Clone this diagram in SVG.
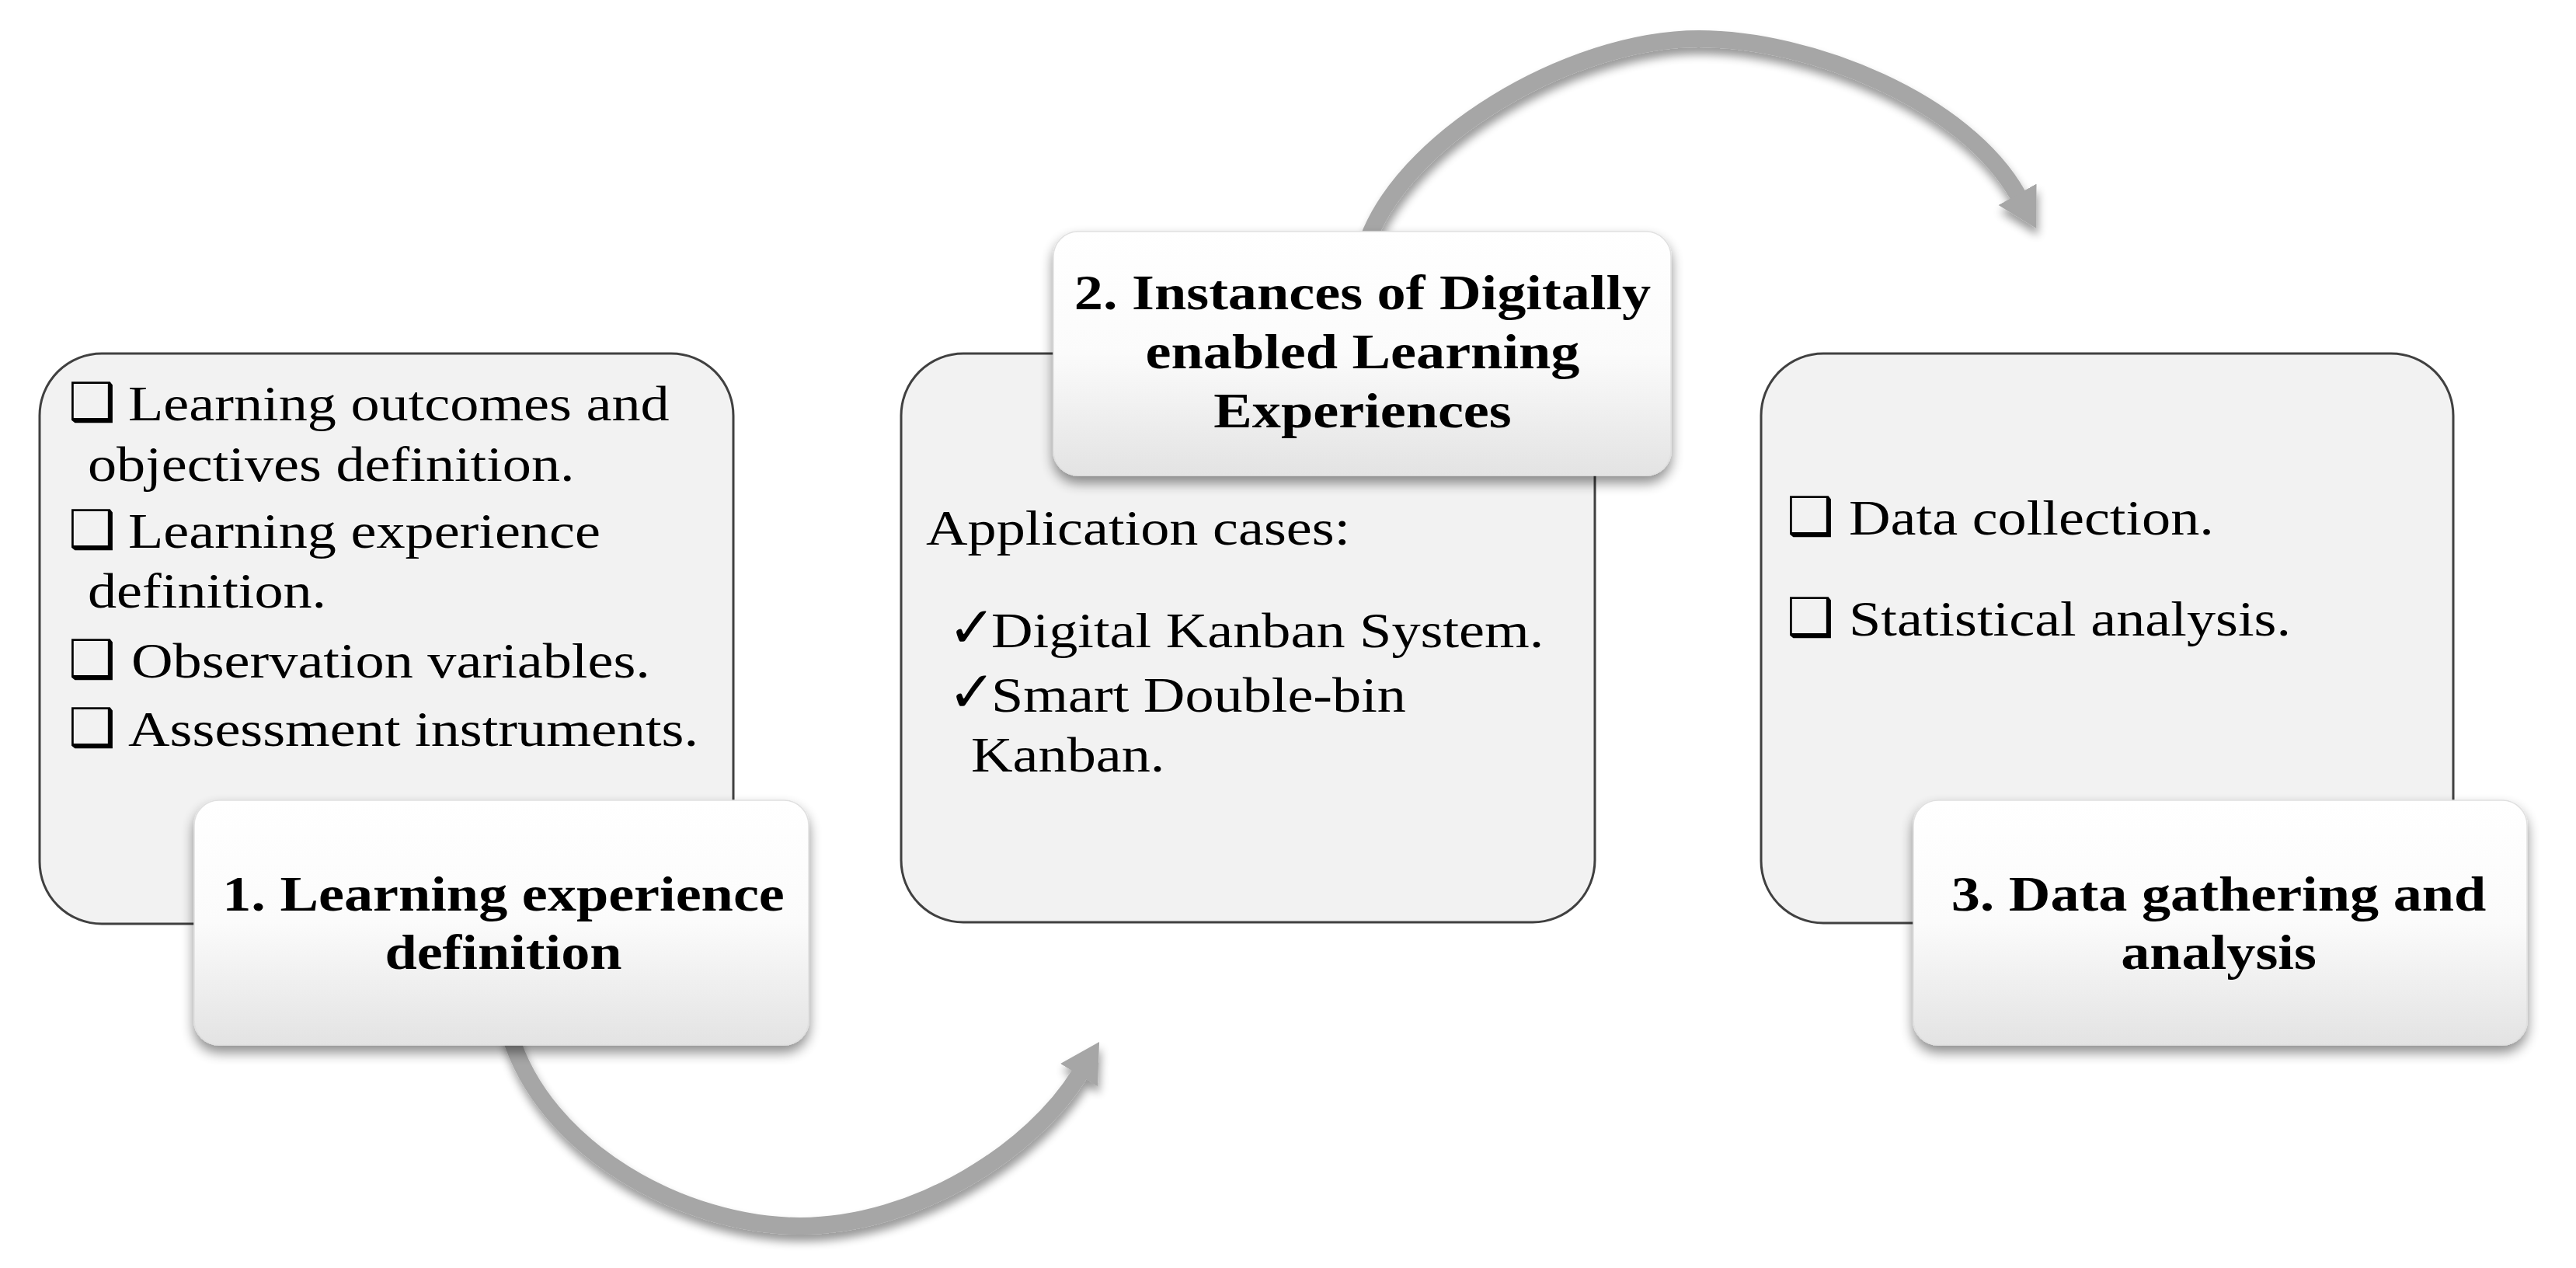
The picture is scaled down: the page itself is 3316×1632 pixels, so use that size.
<svg xmlns="http://www.w3.org/2000/svg" width="3316" height="1632" viewBox="0 0 3316 1632">
<style>
.box{fill:#f2f2f2;stroke:#404040;stroke-width:3}
.card{fill:url(#cardGrad);stroke:#e0e0e0;stroke-width:1.5;filter:url(#cardShadow)}
.t{font-family:"Liberation Serif","Times New Roman",serif;font-size:64px;fill:#000}
.b{font-weight:bold;text-anchor:middle}
.sym{font-family:"DejaVu Sans",sans-serif;font-size:68px;fill:#000}
.chk{font-family:"DejaVu Sans",sans-serif;font-size:74px;fill:#000}
.arrow{fill:none;stroke:#a6a6a6;stroke-width:22;stroke-linecap:butt;filter:url(#arrowShadow)}
</style>
<defs>
<linearGradient id="cardGrad" x1="0" y1="0" x2="0" y2="1">
<stop offset="0" stop-color="#ffffff"/>
<stop offset="0.5" stop-color="#fbfbfb"/>
<stop offset="1" stop-color="#e3e3e3"/>
</linearGradient>
<filter id="cardShadow" x="-10%" y="-15%" width="120%" height="140%">
<feGaussianBlur in="SourceAlpha" stdDeviation="8"/>
<feOffset dx="0" dy="9" result="b"/>
<feComponentTransfer><feFuncA type="linear" slope="0.45"/></feComponentTransfer>
<feMerge><feMergeNode/><feMergeNode in="SourceGraphic"/></feMerge>
</filter>
<filter id="arrowShadow" x="-10%" y="-20%" width="120%" height="150%">
<feGaussianBlur in="SourceAlpha" stdDeviation="6"/>
<feOffset dx="2" dy="9"/>
<feComponentTransfer><feFuncA type="linear" slope="0.4"/></feComponentTransfer>
<feMerge><feMergeNode/><feMergeNode in="SourceGraphic"/></feMerge>
</filter>
<marker id="head" markerUnits="userSpaceOnUse" markerWidth="60" markerHeight="64" refX="2" refY="32" orient="auto">
<path d="M0,4 L50,32 L0,60 Z" fill="#a6a6a6"/>
</marker>
</defs>
<rect width="3316" height="1632" fill="#ffffff"/>

<g id="connectors">
<path class="arrow" marker-end="url(#head)" d="M656,1330 C700,1480 880,1578 1030,1578 C1180,1578 1330,1480 1390,1382"/>
<path class="arrow" marker-end="url(#head)" d="M1757,320 C1800,180 2020,50 2187,50 C2330,50 2530,130 2598,252"/>
</g>

<g id="node-1-content">
<rect class="box" x="51" y="455" width="893" height="734" rx="80"/>
<text class="sym" x="88" y="541">❑</text>
<text class="t" transform="translate(165,541) scale(1.16,1)">Learning outcomes and</text>
<text class="t" transform="translate(113,619) scale(1.16,1)">objectives definition.</text>
<text class="sym" x="88" y="705">❑</text>
<text class="t" transform="translate(165,705) scale(1.16,1)">Learning experience</text>
<text class="t" transform="translate(113,782) scale(1.16,1)">definition.</text>
<text class="sym" x="88" y="872">❑</text>
<text class="t" transform="translate(169,872) scale(1.16,1)">Observation variables.</text>
<text class="sym" x="88" y="960">❑</text>
<text class="t" transform="translate(165,960) scale(1.16,1)">Assessment instruments.</text>
</g>

<g id="node-2-content">
<rect class="box" x="1160" y="455" width="893" height="732" rx="80"/>
<text class="t" transform="translate(1192,701) scale(1.16,1)">Application cases:</text>
<text class="chk" x="1220" y="833">✓</text>
<text class="t" transform="translate(1276,833) scale(1.16,1)">Digital Kanban System.</text>
<text class="chk" x="1220" y="916">✓</text>
<text class="t" transform="translate(1276,916) scale(1.16,1)">Smart Double-bin</text>
<text class="t" transform="translate(1250,993) scale(1.16,1)">Kanban.</text>
</g>

<g id="node-3-content">
<rect class="box" x="2267" y="455" width="891" height="733" rx="80"/>
<text class="sym" x="2300" y="688">❑</text>
<text class="t" transform="translate(2380,688) scale(1.16,1)">Data collection.</text>
<text class="sym" x="2300" y="818">❑</text>
<text class="t" transform="translate(2380,818) scale(1.16,1)">Statistical analysis.</text>
</g>

<g id="node-1-title">
<rect class="card" x="250" y="1030" width="791" height="315" rx="32"/>
<text class="t b" transform="translate(648,1172) scale(1.16,1)">1. Learning experience</text>
<text class="t b" transform="translate(648,1247) scale(1.16,1)">definition</text>
</g>

<g id="node-2-title">
<rect class="card" x="1356" y="298" width="795" height="314" rx="32"/>
<text class="t b" transform="translate(1754,398) scale(1.16,1)">2. Instances of Digitally</text>
<text class="t b" transform="translate(1754,474) scale(1.16,1)">enabled Learning</text>
<text class="t b" transform="translate(1754,550) scale(1.16,1)">Experiences</text>
</g>

<g id="node-3-title">
<rect class="card" x="2463" y="1030" width="790" height="315" rx="32"/>
<text class="t b" transform="translate(2856,1172) scale(1.16,1)">3. Data gathering and</text>
<text class="t b" transform="translate(2856,1247) scale(1.16,1)">analysis</text>
</g>
</svg>
